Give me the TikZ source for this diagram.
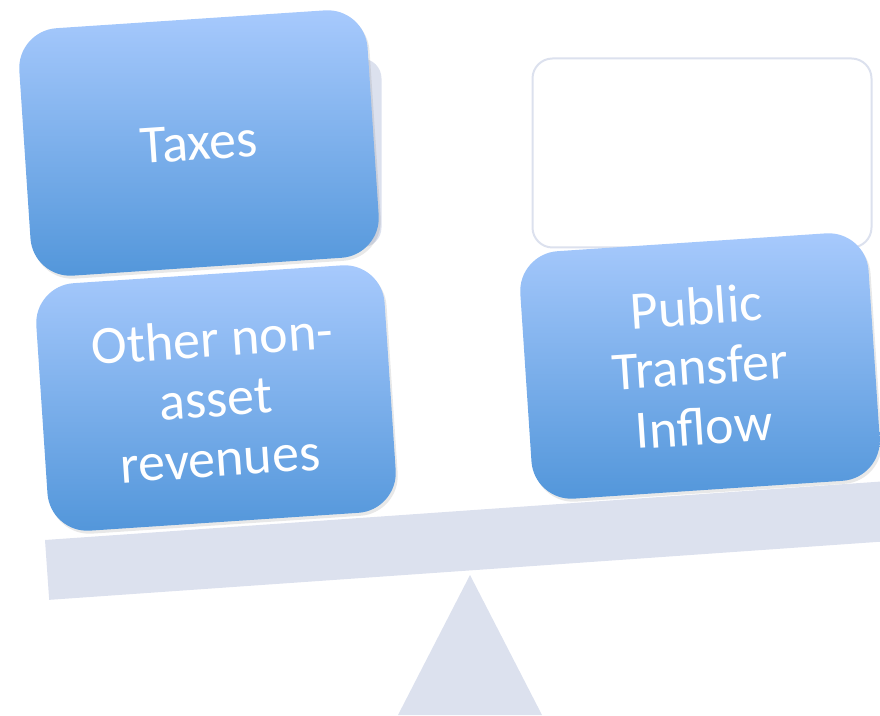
\documentclass[tikz,border=0pt]{standalone}
\usepackage{fontspec}
\setmainfont{Carlito}
\usepackage{tikz}
\usetikzlibrary{positioning,shadows,calc}
\usepackage{xcolor}
\definecolor{paneTop}{HTML}{A8CAFD}
\definecolor{paneBot}{HTML}{5296DA}
\definecolor{scaleGray}{HTML}{DCE1EE}

\begin{document}
\begin{tikzpicture}[x=1pt,y=1pt,%
    weight/.style={%
      rectangle,rounded corners=40pt,minimum width=349pt,minimum height=248pt,
      inner sep=0pt,rotate=3.8,shading=axis,top color=paneTop,bottom color=paneBot,
      text=white,align=center,font=\fontsize{54}{60}\selectfont,
      drop shadow={opacity=0.18,shadow xshift=2pt,shadow yshift=-3pt}},
    holder/.style={%
      rectangle,rounded corners=20pt,minimum width=339pt,minimum height=189pt,inner sep=0pt}
  ]
    \useasboundingbox (0,0) rectangle (880,715);
    \clip (0,0) rectangle (880,715);
    % empty places on the pans
    \node[holder, fill=scaleGray] (leftslot)  at (212,562) {};
    \node[holder, draw=scaleGray, line width=2pt, fill=white] (rightslot) at (702,562) {};
    % fulcrum and beam
    \coordinate (pivot) at (470,140);
    \fill[scaleGray] (pivot) -- (398,0) -- (542,0) -- cycle;
    \coordinate (beamend) at (45,175);
    \fill[scaleGray] (beamend) -- ++(4:880) -- ++(-86:60) -- ++(184:880) -- cycle;
    % the weights
    \node[weight] (taxes)   at (199,572)  {Taxes};
    \node[weight] (other)   at (216,317)  {Other non-\\asset\\revenues};
    \node[weight] (inflow)  at (700,349)  {Public\\Transfer\\Inflow};
  \end{tikzpicture}
\end{document}
